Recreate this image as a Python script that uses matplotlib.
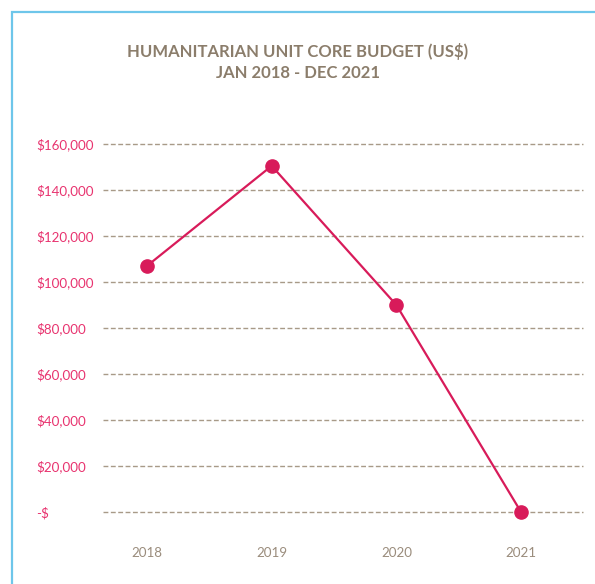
import matplotlib
matplotlib.use("Agg")
import matplotlib.pyplot as plt
from matplotlib.patches import Rectangle

years = ["2018", "2019", "2020", "2021"]
budget = [107000, 150500, 90000, 0]
ytick_values = [0, 20000, 40000, 60000, 80000, 100000, 120000, 140000, 160000]
ytick_labels = ["-$", "$20,000", "$40,000", "$60,000", "$80,000", "$100,000",
                "$120,000", "$140,000", "$160,000"]
title = "HUMANITARIAN UNIT CORE BUDGET (US$)\nJAN 2018 - DEC 2021"

plt.rcParams['font.family'] = ['Lato', 'DejaVu Sans']

W, H = 595, 584
fig = plt.figure(figsize=(W / 100, H / 100), dpi=100)

# light blue frame
fig.patches.append(Rectangle((12 / W, -0.1), 1.2, (H - 12) / H + 0.1,
                             transform=fig.transFigure, fill=False,
                             edgecolor="#6EC6EA", linewidth=1.6))

left, right = 103, 583
top, bottom = 144, 512
ax = fig.add_axes([left / W, (H - bottom) / H, (right - left) / W, (bottom - top) / H])

x = list(range(len(years)))
ax.set_xlim(-0.353, 3.497)
ax.set_ylim(0, 160000)

for v in ytick_values:
    ax.axhline(v, color="#A89A88", linewidth=1.0, linestyle=(0, (3.5, 1.8)),
               clip_on=False, zorder=1)

ax.plot(x, budget, color="#D81B5A", linewidth=1.6, marker="o", markersize=9.5,
        clip_on=False, zorder=3)

ax.set_yticks(ytick_values)
ax.set_yticklabels(ytick_labels)
for lab in ax.get_yticklabels():
    lab.set_horizontalalignment("left")
ax.tick_params(axis="y", length=0, pad=48, labelsize=9.6, labelcolor="#E8336F")

ax.set_xticks(x)
ax.set_xticklabels(years)
ax.tick_params(axis="x", length=0, pad=25, labelsize=9.6, labelcolor="#9A8C7C")

for s in ax.spines.values():
    s.set_visible(False)
ax.set_facecolor("none")

fig.text(0.5, (H - 62) / H, title, ha="center", va="center", fontsize=12,
         fontweight="bold", color="#8B7D6B", linespacing=1.45)

fig.savefig("out.png", dpi=100)
